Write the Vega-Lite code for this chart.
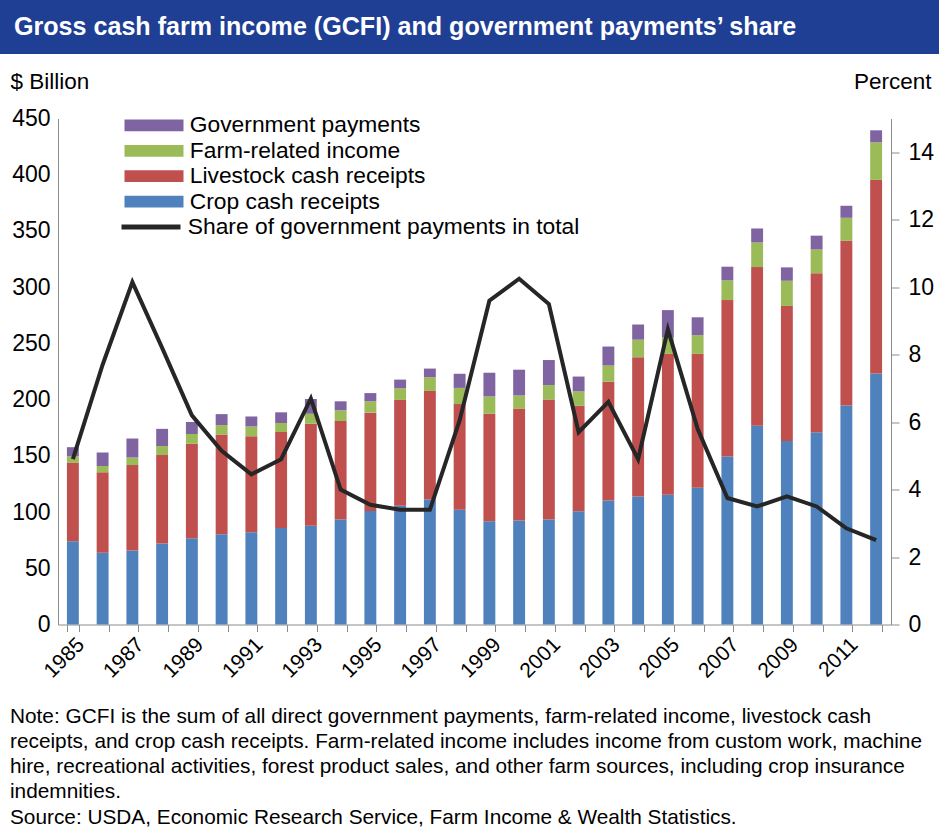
{
  "$schema": "https://vega.github.io/schema/vega-lite/v6.json",
  "padding": 0,
  "background": "white",
  "spacing": 16.5,
  "config": {
    "font": "Liberation Sans",
    "view": {"stroke": null},
    "axis": {"labelColor": "#000", "titleColor": "#000", "domainColor": "#8c8c8c", "tickColor": "#8c8c8c", "grid": false}
  },
  "resolve": {"legend": {"fill": "independent", "stroke": "independent"}},
  "datasets": {
    "farm": [
      {"year": 1985, "crop": 74, "livestock": 70, "farm": 5.5, "gov": 8.2, "share": 4.9},
      {"year": 1986, "crop": 63.7, "livestock": 71.7, "farm": 5.5, "gov": 12.1, "share": 7.7},
      {"year": 1987, "crop": 65.8, "livestock": 76, "farm": 6.7, "gov": 16.9, "share": 10.15},
      {"year": 1988, "crop": 72, "livestock": 78.7, "farm": 8, "gov": 15.3, "share": 8.2},
      {"year": 1989, "crop": 76.6, "livestock": 84.2, "farm": 8.6, "gov": 10.7, "share": 6.2},
      {"year": 1990, "crop": 80.2, "livestock": 88.8, "farm": 8.3, "gov": 9.8, "share": 5.15},
      {"year": 1991, "crop": 82, "livestock": 85.5, "farm": 8.6, "gov": 8.9, "share": 4.45},
      {"year": 1992, "crop": 85.8, "livestock": 85.4, "farm": 8, "gov": 9.5, "share": 4.9},
      {"year": 1993, "crop": 87.9, "livestock": 90.7, "farm": 8.8, "gov": 13.2, "share": 6.7},
      {"year": 1994, "crop": 93.4, "livestock": 87.6, "farm": 9.5, "gov": 8, "share": 4.0},
      {"year": 1995, "crop": 101, "livestock": 87.4, "farm": 10.1, "gov": 7.3, "share": 3.55},
      {"year": 1996, "crop": 105.7, "livestock": 94, "farm": 10.4, "gov": 7.7, "share": 3.4},
      {"year": 1997, "crop": 111.2, "livestock": 96.5, "farm": 12.2, "gov": 7.7, "share": 3.4},
      {"year": 1998, "crop": 102, "livestock": 94, "farm": 14.4, "gov": 12.6, "share": 6.05},
      {"year": 1999, "crop": 91.9, "livestock": 95.5, "farm": 15.4, "gov": 21.1, "share": 9.6},
      {"year": 2000, "crop": 92.5, "livestock": 99.5, "farm": 11.7, "gov": 22.9, "share": 10.25},
      {"year": 2001, "crop": 93.4, "livestock": 106.6, "farm": 12.9, "gov": 22.3, "share": 9.5},
      {"year": 2002, "crop": 100.8, "livestock": 93.7, "farm": 12.8, "gov": 13.2, "share": 5.7},
      {"year": 2003, "crop": 110.3, "livestock": 105.6, "farm": 14.4, "gov": 16.9, "share": 6.6},
      {"year": 2004, "crop": 113.9, "livestock": 123.8, "farm": 15.6, "gov": 13.5, "share": 4.9},
      {"year": 2005, "crop": 115.5, "livestock": 125.2, "farm": 14.4, "gov": 24.5, "share": 8.75},
      {"year": 2006, "crop": 121.6, "livestock": 119.1, "farm": 16.6, "gov": 15.9, "share": 5.8},
      {"year": 2007, "crop": 149.5, "livestock": 139, "farm": 17.5, "gov": 12.2, "share": 3.75},
      {"year": 2008, "crop": 176.7, "livestock": 141.2, "farm": 21.8, "gov": 12.5, "share": 3.5},
      {"year": 2009, "crop": 163.2, "livestock": 120.1, "farm": 22.4, "gov": 11.9, "share": 3.8},
      {"year": 2010, "crop": 170.9, "livestock": 141.5, "farm": 21.1, "gov": 12.3, "share": 3.5},
      {"year": 2011, "crop": 194.8, "livestock": 146.4, "farm": 20.5, "gov": 10.7, "share": 2.85},
      {"year": 2012, "crop": 223.3, "livestock": 172.1, "farm": 33.4, "gov": 10.7, "share": 2.5}
    ],
    "components": [
      {"key": "crop", "component": "Crop cash receipts", "rank": 1},
      {"key": "livestock", "component": "Livestock cash receipts", "rank": 2},
      {"key": "farm", "component": "Farm-related income", "rank": 3},
      {"key": "gov", "component": "Government payments", "rank": 4}
    ],
    "banner": [{"from": 0, "to": 1}]
  },
  "vconcat": [
    {
      "width": 881,
      "height": 54,
      "data": {"name": "banner"},
      "mark": {"type": "rect", "fill": "#1f3f94"},
      "encoding": {
        "x": {"field": "from", "type": "quantitative", "scale": {"domain": [0, 1], "range": [-58, 881]}, "axis": null},
        "x2": {"field": "to"}
      },
      "title": {
        "text": "Gross cash farm income (GCFI) and government payments’ share",
        "orient": "bottom",
        "anchor": "start",
        "frame": "group",
        "offset": -27,
        "baseline": "middle",
        "dx": -44,
        "color": "white",
        "fontSize": 25.1,
        "fontWeight": "bold"
      }
    },
    {
      "width": 833,
      "height": 506,
      "title": {
        "text": [
          "Note: GCFI is the sum of all direct government payments, farm-related income, livestock cash",
          "receipts, and crop cash receipts. Farm-related income includes income from custom work, machine",
          "hire, recreational activities, forest product sales, and other  farm sources, including crop insurance",
          "indemnities.",
          "Source: USDA, Economic Research Service, Farm Income & Wealth Statistics."
        ],
        "orient": "bottom",
        "anchor": "start",
        "frame": "bounds",
        "fontSize": 20.8,
        "fontWeight": "normal",
        "lineHeight": 25.2,
        "offset": 25.5,
        "baseline": "top",
        "color": "#000"
      },
      "layer": [
        {
          "data": {"name": "farm"},
          "transform": [
            {"fold": ["crop", "livestock", "farm", "gov"], "as": ["key", "value"]},
            {"lookup": "key", "from": {"data": {"name": "components"}, "key": "key", "fields": ["component", "rank"]}}
          ],
          "mark": {"type": "bar"},
          "encoding": {
            "x": {
              "field": "year",
              "type": "ordinal",
              "scale": {"paddingInner": 0.6, "paddingOuter": 0.3},
              "axis": {
                "title": null,
                "labelAngle": -45,
                "labelFontSize": 21,
                "labelExpr": "datum.value % 2 == 1 ? datum.label : ''",
                "labelOverlap": false,
                "labelPadding": 2,
                "tickBand": "extent",
                "tickSize": 7
              }
            },
            "y": {
              "field": "value",
              "type": "quantitative",
              "stack": "zero",
              "scale": {"domain": [0, 450], "nice": false},
              "axis": {
                "title": "$ Billion",
                "titleAngle": 0,
                "titleX": -48,
                "titleY": -30,
                "titleAlign": "left",
                "titleBaseline": "alphabetic",
                "titleFontSize": 22.5,
                "titleFontWeight": "normal",
                "ticks": false,
                "labelFontSize": 23,
                "labelPadding": 8,
                "values": [0, 50, 100, 150, 200, 250, 300, 350, 400, 450]
              }
            },
            "fill": {
              "field": "component",
              "type": "nominal",
              "scale": {
                "domain": ["Government payments", "Farm-related income", "Livestock cash receipts", "Crop cash receipts"],
                "range": ["#8064a2", "#9bbb59", "#c0504d", "#4f81bd"]
              },
              "legend": {
                "orient": "none",
                "legendX": 61,
                "legendY": -4.5,
                "title": null,
                "padding": 0,
                "symbolType": "M-1,-1H9V1H-1Z",
                "symbolSize": 139.24,
                "symbolStrokeWidth": 0,
                "symbolOpacity": 1,
                "labelFontSize": 22.8,
                "labelOffset": 48,
                "labelLimit": 600,
                "labelColor": "#000",
                "rowPadding": 1.4
              }
            },
            "order": {"field": "rank", "type": "quantitative"}
          }
        },
        {
          "data": {"name": "farm"},
          "mark": {"type": "line", "strokeWidth": 4},
          "encoding": {
            "x": {"field": "year", "type": "ordinal"},
            "y": {
              "field": "share",
              "type": "quantitative",
              "scale": {"domain": [0, 15], "nice": false},
              "axis": {
                "orient": "right",
                "title": "Percent",
                "titleAngle": 0,
                "titleX": 40,
                "titleY": -30,
                "titleAlign": "right",
                "titleBaseline": "alphabetic",
                "titleFontSize": 22.5,
                "titleFontWeight": "normal",
                "tickSize": 8,
                "labelFontSize": 23,
                "labelPadding": 9,
                "values": [0, 2, 4, 6, 8, 10, 12, 14]
              }
            },
            "stroke": {
              "datum": "Share of government payments in total",
              "type": "nominal",
              "scale": {"range": ["#262626"]},
              "legend": {
                "orient": "none",
                "legendX": 58,
                "legendY": 97.2,
                "title": null,
                "padding": 0,
                "symbolType": "M-1,0H9",
                "symbolSize": 139.24,
                "symbolStrokeWidth": 5,
                "labelFontSize": 22.8,
                "labelOffset": 49,
                "labelLimit": 700,
                "labelColor": "#000"
              }
            }
          }
        }
      ],
      "resolve": {"scale": {"y": "independent"}}
    }
  ]
}
